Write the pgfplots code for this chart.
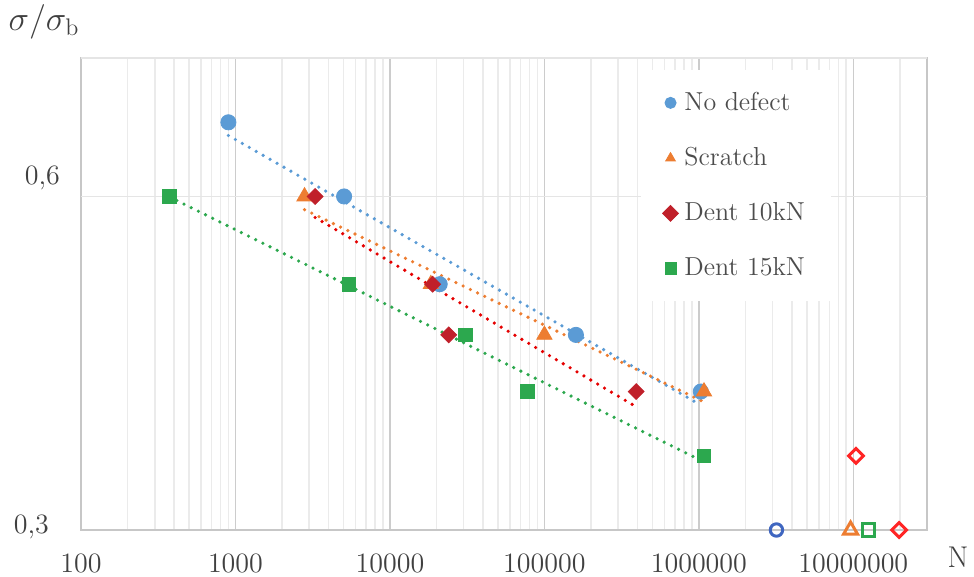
\documentclass[border=0pt]{standalone}
\usepackage{pgfplots}
\pgfplotsset{compat=1.18}
\definecolor{cblue}{HTML}{5B9BD5}
\definecolor{corange}{HTML}{ED7D31}
\definecolor{cred}{HTML}{C0202A}
\definecolor{cgreen}{HTML}{2CA84E}
\definecolor{oblue}{HTML}{3F66C0}
\definecolor{ored}{HTML}{FF2525}
\definecolor{txt}{HTML}{404040}
\tikzset{xlab/.style={anchor=north, inner sep=0pt, yshift=-11.5pt, text=txt, font=\fontsize{14}{14}\selectfont}}
\begin{document}
\begin{tikzpicture}
\useasboundingbox (-40.5pt,-23.5pt) rectangle (446.5pt,265pt);
\begin{axis}[
  at={(0,0)}, anchor=south west, scale only axis,
  width=423pt, height=236pt,
  clip=false,
  xmode=log, ymode=log,
  xmin=100, xmax=3e7, ymin=0.3, ymax=0.8,
  xtick={100,1000,10000,100000,1000000,10000000},
  xticklabels={,,,,,},
  minor xtick={200,300,400,500,600,700,800,900,2000,3000,4000,5000,6000,7000,8000,9000,20000,30000,40000,50000,60000,70000,80000,90000,200000,300000,400000,500000,600000,700000,800000,900000,2e6,3e6,4e6,5e6,6e6,7e6,8e6,9e6,2e7,3e7},
  ytick={0.3,0.6}, yticklabels={,},
  xmajorgrids, xminorgrids,
  major grid style={color=black!20, line width=0.8pt},
  minor grid style={color=black!8, line width=0.8pt},
  axis line style={black!22, line width=0.8pt},
  tick style={draw=none},
  legend style={at={(0.661,0.975)}, anchor=north west, draw=none, fill=white,
    font=\fontsize{13}{13}\selectfont, text=black!70, row sep=13pt,
    inner xsep=11pt, inner ysep=9pt,
    /tikz/every odd column/.append style={column sep=1pt}},
  legend cell align=left,
  legend image code/.code={\draw[#1, mark size=2.8pt] plot coordinates {(0pt,0pt)};},
  trend/.style={line width=1.8pt, dash pattern=on 0pt off 4pt, line cap=round},
]
\draw[black!10, line width=0.8pt] (axis cs:100,0.6) -- (axis cs:3e7,0.6);
\draw[black!10, line width=0.8pt] (axis cs:100,0.8) -- (axis cs:3e7,0.8);

\addplot[only marks, mark=*, mark size=3.8pt, color=cblue] coordinates {
 (900,0.70) (5050,0.60) (21000,0.50) (160000,0.45) (1030000,0.40)};
\addlegendentry{No defect}
\addplot[only marks, mark=triangle*, mark size=4.4pt, color=corange] coordinates {
 (2800,0.60) (18400,0.50) (100000,0.45) (1080000,0.40)};
\addlegendentry{Scratch}
\addplot[only marks, mark=square*, mark size=2.8pt, mark options={rotate=45}, color=cred] coordinates {
 (3280,0.60) (18900,0.50) (24000,0.45) (393000,0.40)};
\addlegendentry{Dent 10kN}
\addplot[only marks, mark=square*, mark size=3.4pt, color=cgreen] coordinates {
 (375,0.60) (5430,0.50) (30900,0.45) (77600,0.40) (1080000,0.35)};
\addlegendentry{Dent 15kN}

% run-outs
\addplot[forget plot, only marks, mark=o, mark size=3.1pt, line width=1.5pt, color=oblue] coordinates {(3.18e6,0.30)};
\addplot[forget plot, only marks, mark=triangle, mark size=4pt, line width=1.5pt, color=corange] coordinates {(9.6e6,0.30)};
\addplot[forget plot, only marks, mark=square, mark size=3.1pt, line width=1.5pt, color=cgreen] coordinates {(1.25e7,0.30)};
\addplot[forget plot, only marks, mark=square, mark size=2.6pt, mark options={rotate=45}, line width=1.5pt, color=ored] coordinates {(1.98e7,0.30) (1.04e7,0.35)};

% trendlines (power fits)
\addplot[forget plot, trend, color=cblue] coordinates {(900,0.681) (1030000,0.389)};
\addplot[forget plot, trend, color=corange] coordinates {(2800,0.5837) (1080000,0.3915)};
\addplot[forget plot, trend, color=red!90!black] coordinates {(3280,0.5744) (393000,0.3876)};
\addplot[forget plot, trend, color=cgreen] coordinates {(375,0.5993) (1080000,0.3456)};
\end{axis}
\node[xlab] at (0pt,0pt) {100};
\node[xlab] at (77.23pt,0pt) {1000};
\node[xlab] at (154.46pt,0pt) {10000};
\node[xlab] at (231.69pt,0pt) {100000};
\node[xlab] at (308.93pt,0pt) {1000000};
\node[xlab] at (386.16pt,0pt) {10000000};
\node[anchor=east, text=txt, font=\fontsize{14}{14}\selectfont] at (-12.5pt,1.5pt) {0,3};
\node[anchor=east, text=txt, font=\fontsize{14}{14}\selectfont] at (-7pt,176pt) {0,6};
\node[text=txt, font=\fontsize{17}{17}\selectfont] at (-18.5pt,254pt) {$\sigma/\sigma_{\mathrm{b}}$};
\node[text=txt, font=\fontsize{15}{15}\selectfont] at (438.5pt,-13.5pt) {N};
\end{tikzpicture}
\end{document}
